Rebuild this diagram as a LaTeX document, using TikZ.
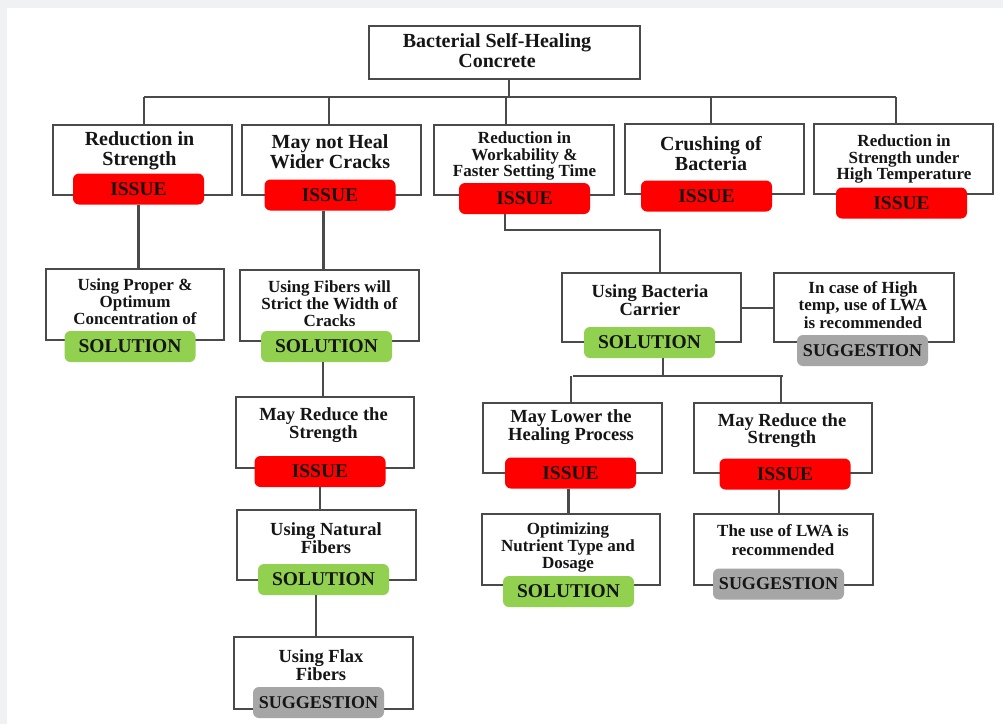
\documentclass[tikz,border=0pt]{standalone}
\usepackage{fontspec}
\setmainfont{Liberation Serif}
\definecolor{pagegray}{HTML}{EFF1F3}
\definecolor{linec}{HTML}{4A4A4A}
\definecolor{issuered}{HTML}{FF0000}
\definecolor{solgreen}{HTML}{92D050}
\definecolor{suggray}{HTML}{A6A6A6}
\definecolor{txtc}{HTML}{151515}
\tikzset{
  box/.style={draw=linec, line width=2.2pt, fill=white, inner sep=0pt, anchor=north west},
  lab/.style={rounded corners=6pt, minimum width=131pt, minimum height=31pt, inner sep=0pt, text=txtc,
              font=\bfseries\fontsize{19.5}{19.5}\selectfont},
  issue/.style={lab, fill=issuered},
  sol/.style={lab, fill=solgreen},
  sug/.style={lab, fill=suggray, font=\bfseries\fontsize{18}{18}\selectfont},
  tbig/.style={align=center, inner sep=0pt, text=txtc, font=\bfseries\fontsize{20}{20}\selectfont},
  tmid/.style={align=center, inner sep=0pt, text=txtc, font=\bfseries\fontsize{18.5}{18}\selectfont},
  tsml/.style={align=center, inner sep=0pt, text=txtc, font=\bfseries\fontsize{17}{17}\selectfont},
  conn/.style={draw=linec, line width=2.2pt}
}
\begin{document}
\begin{tikzpicture}[x=1pt,y=-1pt]
\fill[pagegray] (0,0) rectangle (1003,724);
\fill[white] (7,8) rectangle (1003,724);
\useasboundingbox (0,0) rectangle (1003,724);

\coordinate (bar) at (0,97);
\coordinate (cbar) at (0,230);
\coordinate (sbar) at (0,376);

% ---------- boxes ----------
\node[box, minimum width=271pt, minimum height=53pt] (root) at (368,25) {};
\node[box, minimum width=179pt, minimum height=70pt] (a) at (52,124) {};
\node[box, minimum width=179pt, minimum height=70pt] (b) at (241,124) {};
\node[box, minimum width=180pt, minimum height=70pt] (c) at (433,124) {};
\node[box, minimum width=179pt, minimum height=70pt] (d) at (624,123) {};
\node[box, minimum width=179pt, minimum height=70pt] (e) at (813,123) {};
\node[box, minimum width=178pt, minimum height=71pt] (a2) at (45,268) {};
\node[box, minimum width=179pt, minimum height=71pt] (b2) at (239,269) {};
\node[box, minimum width=179pt, minimum height=69pt] (cr) at (561,272) {};
\node[box, minimum width=180pt, minimum height=69pt] (s1) at (773,272) {};
\node[box, minimum width=178pt, minimum height=71pt] (b3) at (235,396) {};
\node[box, minimum width=179pt, minimum height=70pt] (lo) at (482,402) {};
\node[box, minimum width=178pt, minimum height=70pt] (r2) at (693,402) {};
\node[box, minimum width=179pt, minimum height=70pt] (nf) at (236,509) {};
\node[box, minimum width=178pt, minimum height=71pt] (op) at (481,513) {};
\node[box, minimum width=179pt, minimum height=71pt] (lw) at (693,513) {};
\node[box, minimum width=179pt, minimum height=72pt] (fx) at (233,636) {};

% ---------- labels ----------
\node[issue] (aI) at (138.5,189) {ISSUE};
\node[issue] (bI) at (330,195) {ISSUE};
\node[issue] (cI) at (524.5,198.5) {ISSUE};
\node[issue] (dI) at (706.5,196) {ISSUE};
\node[issue] (eI) at (901.5,203) {ISSUE};
\node[sol] (a2S) at (130,346.5) {SOLUTION};
\node[sol] (b2S) at (326.5,346.5) {SOLUTION};
\node[sol] (crS) at (649.5,342.5) {SOLUTION};
\node[sug] (s1G) at (862.5,350.5) {SUGGESTION};
\node[issue] (b3I) at (320,471.5) {ISSUE};
\node[issue] (loI) at (570.5,473) {ISSUE};
\node[issue] (r2I) at (785,474) {ISSUE};
\node[sol] (nfS) at (323.5,579.5) {SOLUTION};
\node[sol] (opS) at (568.5,591.5) {SOLUTION};
\node[sug] (lwG) at (778.5,584) {SUGGESTION};
\node[sug] (fxG) at (318.5,702.5) {SUGGESTION};

% ---------- texts ----------
\node[tbig] (rootT) at (497,51) {Bacterial Self-Healing\\Concrete};
\node[tbig] (aT) at (139.5,151) {Reduction in\\Strength};
\node[tbig] (bT) at (330,152) {May not Heal\\Wider Cracks};
\node[tsml, font=\bfseries\fontsize{17}{16.5}\selectfont] (cT) at (524.5,156) {Reduction in\\Workability \&\\Faster Setting Time};
\node[tbig] (dT) at (711,154) {Crushing of\\Bacteria};
\node[tsml, font=\bfseries\fontsize{17}{16.5}\selectfont] (eT) at (904,159) {Reduction in\\Strength under\\High Temperature};
\node[tsml] (a2T) at (135,301.5) {Using Proper \&\\Optimum\\Concentration of};
\node[tsml] (b2T) at (329.5,303.5) {Using Fibers will\\Strict the Width of\\Cracks};
\node[tmid, font=\bfseries\fontsize{18.5}{17.5}\selectfont] (crT) at (650,300) {Using Bacteria\\Carrier};
\node[tsml, font=\bfseries\fontsize{17}{17.5}\selectfont] (s1T) at (863,305) {In case of High\\temp, use of LWA\\is recommended};
\node[tmid] (b3T) at (323.5,425) {May Reduce the\\Strength};
\node[tmid] (loT) at (571,427.5) {May Lower the\\Healing Process};
\node[tmid, font=\bfseries\fontsize{18.5}{17.5}\selectfont] (r2T) at (782,430.5) {May Reduce the\\Strength};
\node[tmid, font=\bfseries\fontsize{18.5}{18.5}\selectfont] (nfT) at (326,538) {Using Natural\\Fibers};
\node[tsml] (opT) at (568,547.5) {Optimizing\\Nutrient Type and\\Dosage};
\node[tsml, font=\bfseries\fontsize{17}{18.5}\selectfont] (lwT) at (783,540) {The use of LWA is\\recommended};
\node[tmid, font=\bfseries\fontsize{18.5}{17.5}\selectfont] (fxT) at (321,665) {Using Flax\\Fibers};

% ---------- connectors ----------
\draw[conn] ([xshift=4.5pt]root.south) -- ([xshift=4.5pt]root.south |- bar);
\draw[conn] ([xshift=1.5pt]a.north |- bar) -- ([xshift=-8pt]e.north |- bar);
\draw[conn] ([xshift=1.5pt]a.north |- bar) -- ([xshift=1.5pt]a.north);
\draw[conn] ([xshift=-2.5pt]b.north |- bar) -- ([xshift=-2.5pt]b.north);
\draw[conn] ([xshift=-18pt]c.north |- bar) -- ([xshift=-18pt]c.north);
\draw[conn] ([xshift=-3.5pt]d.north |- bar) -- ([xshift=-3.5pt]d.north);
\draw[conn] ([xshift=-8pt]e.north |- bar) -- ([xshift=-8pt]e.north);

\draw[conn] (aI.south) -- (aI.south |- a2.north);
\draw[conn] ([xshift=-6.5pt]bI.south) -- ([xshift=-6.5pt]bI.south |- b2.north);
\draw[conn] ([xshift=-19.5pt]cI.south) -- ([xshift=-19.5pt]cI.south |- cbar) -| ([xshift=8pt]cr.north);
\draw[conn] (cr.east) -- (s1.west);
\draw[conn] ([xshift=13.5pt]crS.south) -- ([xshift=13.5pt]crS.south |- sbar);
\draw[conn] (lo.north |- sbar) -- (r2.north |- sbar);
\draw[conn] ([xshift=-1.5pt]lo.north |- sbar) -- ([xshift=-1.5pt]lo.north);
\draw[conn] ([xshift=-2pt]r2.north |- sbar) -- ([xshift=-2pt]r2.north);
\draw[conn] ([xshift=-3.5pt]b2S.south) -- ([xshift=-3.5pt]b2S.south |- b3.north);
\draw[conn] (b3I.south) -- (b3I.south |- nf.north);
\draw[conn] ([xshift=-7.5pt]nfS.south) -- ([xshift=-7.5pt]nfS.south |- fx.north);
\draw[conn] ([xshift=-2pt]loI.south) -- ([xshift=-2pt]loI.south |- op.north);
\draw[conn] ([xshift=-6pt]r2I.south) -- ([xshift=-6pt]r2I.south |- lw.north);
\end{tikzpicture}
\end{document}
